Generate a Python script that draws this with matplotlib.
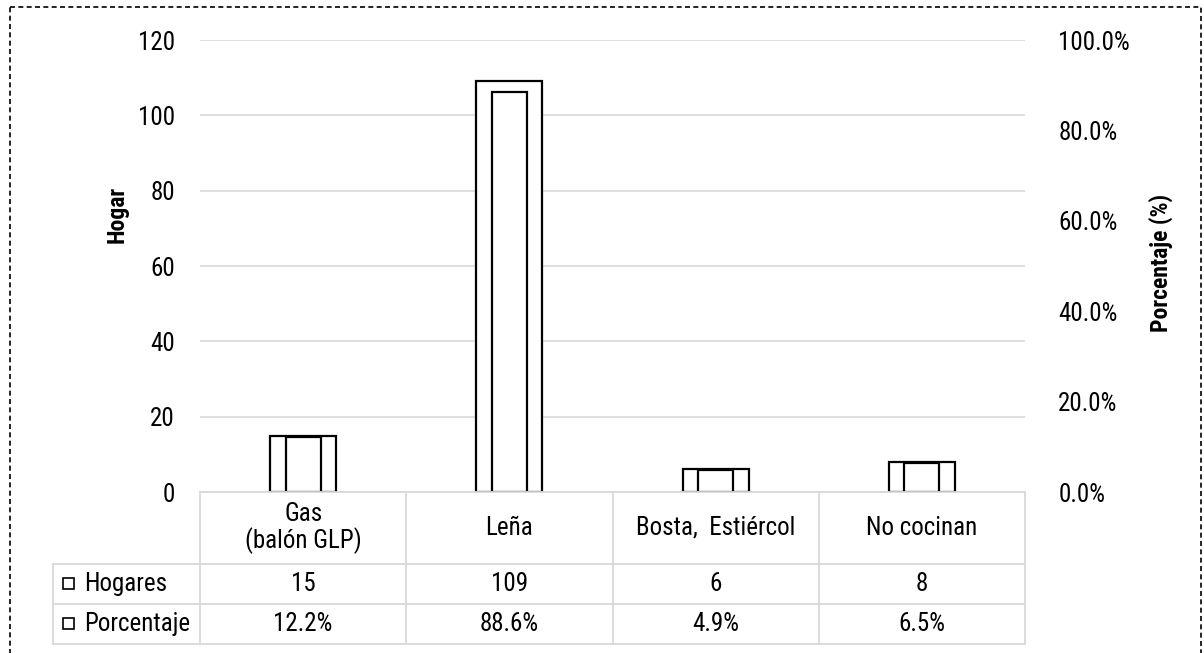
import matplotlib
matplotlib.use("Agg")
import matplotlib.pyplot as plt
from matplotlib.patches import Rectangle
from matplotlib.lines import Line2D

# ─── DATA ────────────────────────────────────────────────────────────────
categories = ["Gas\n(balón GLP)", "Leña", "Bosta,  Estiércol", "No cocinan"]
hogares = [15, 109, 6, 8]
porcentaje = [12.2, 88.6, 4.9, 6.5]
series_names = ["Hogares", "Porcentaje"]
left_ticks = [0, 20, 40, 60, 80, 100, 120]
right_ticks = [0, 20, 40, 60, 80, 100]

# ─── STYLE ───────────────────────────────────────────────────────────────
plt.rcParams["font.family"] = ["Roboto Condensed", "DejaVu Sans"]

W, H = 1204, 653
GRID = "#d9d9d9"
FS = 18


def fx(px):
    return px / W


def fy(py):
    return 1 - py / H


fig = plt.figure(figsize=(W / 100, H / 100), dpi=100)

L, R, T, B = 200, 1025, 40, 492
ax = fig.add_axes([fx(L), fy(B), fx(R - L), (B - T) / H])
ax2 = ax.twinx()

x = list(range(len(categories)))
ax.bar(x, hogares, width=0.32, color="white", edgecolor="black", linewidth=1.6, zorder=3)
ax2.bar(x, porcentaje, width=0.17, color="white", edgecolor="black", linewidth=1.6, zorder=3)

ax.set_xlim(-0.5, len(categories) - 0.5)
ax.set_ylim(0, 120)
ax2.set_ylim(0, 100)
ax.set_yticks(left_ticks)
ax2.set_yticks(right_ticks)
ax2.set_yticklabels([f"{t:.1f}%" for t in right_ticks])
ax.yaxis.grid(True, color=GRID, linewidth=1.2, zorder=0)
ax.set_axisbelow(True)
ax.set_xticks([])
for a in (ax, ax2):
    for s in a.spines.values():
        s.set_visible(False)
    a.tick_params(axis="y", length=0, labelsize=FS)
ax.tick_params(axis="y", pad=18)
ax2.tick_params(axis="y", pad=24)

fig.text(fx(117), fy(214), "Hogar", rotation=90, ha="center", va="center",
         fontsize=17, fontweight="bold")
fig.text(fx(1161), fy(263), "Porcentaje (%)", rotation=90, ha="center", va="center",
         fontsize=17, fontweight="bold")

# ─── DATA TABLE ──────────────────────────────────────────────────────────
tab = fig.add_axes([0, 0, 1, 1], facecolor="none")
tab.set_xlim(0, W)
tab.set_ylim(H, 0)
tab.axis("off")

col_w = (R - L) / len(categories)
row_y = [B, 564, 604, 644]
lab_x = 53
lw = 1.3
tab.plot([L, R], [B, B], color=GRID, lw=lw)
for i in range(len(categories) + 1):
    cx = L + i * col_w
    tab.plot([cx, cx], [B, row_y[-1]], color=GRID, lw=lw)
for yy in row_y[1:]:
    tab.plot([lab_x, R], [yy, yy], color=GRID, lw=lw)
tab.plot([lab_x, lab_x], [row_y[1], row_y[-1]], color=GRID, lw=lw)

for i, cat in enumerate(categories):
    cx = L + (i + 0.5) * col_w
    tab.text(cx, (row_y[0] + row_y[1]) / 2, cat, ha="center", va="center",
             fontsize=FS, linespacing=1.05)
    tab.text(cx, (row_y[1] + row_y[2]) / 2, f"{hogares[i]}", ha="center", va="center", fontsize=FS)
    tab.text(cx, (row_y[2] + row_y[3]) / 2, f"{porcentaje[i]:.1f}%", ha="center", va="center",
             fontsize=FS)

for j, name in enumerate(series_names):
    cy = (row_y[j + 1] + row_y[j + 2]) / 2
    tab.add_patch(Rectangle((63, cy - 6), 11, 11, facecolor="white", edgecolor="black", lw=1.2))
    tab.text(84, cy, name, ha="left", va="center", fontsize=FS)

# dashed frame
tab.add_line(Line2D([10, W - 3, W - 3, 10, 10], [7, 7, H + 5, H + 5, 7],
                    color="black", lw=1.2, linestyle=(0, (3, 2))))

fig.savefig("out.png", dpi=100)
